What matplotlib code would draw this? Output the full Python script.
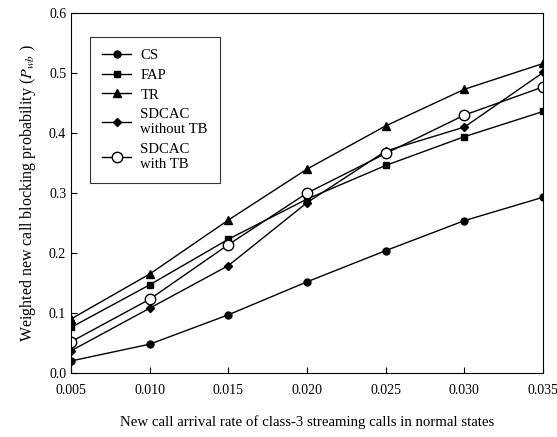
import matplotlib
matplotlib.use("Agg")
import matplotlib.pyplot as plt

plt.rcParams['font.family'] = ['Liberation Serif', 'DejaVu Serif']
plt.rcParams['mathtext.fontset'] = 'stix'

x = [0.005, 0.010, 0.015, 0.020, 0.025, 0.030, 0.035]
xtick_labels = ["0.005", "0.010", "0.015", "0.020", "0.025", "0.030", "0.035"]
cs = [0.020, 0.048, 0.097, 0.152, 0.204, 0.254, 0.293]
fap = [0.076, 0.147, 0.223, 0.290, 0.346, 0.394, 0.436]
tr = [0.090, 0.165, 0.255, 0.340, 0.412, 0.473, 0.516]
sdcac_wo = [0.037, 0.108, 0.179, 0.284, 0.370, 0.410, 0.501]
sdcac_w = [0.052, 0.123, 0.214, 0.300, 0.366, 0.430, 0.477]

fig = plt.figure(figsize=(5.57, 4.37), dpi=100)
ax = fig.add_axes([0.1275, 0.1465, 0.8475, 0.8235])

lw = 1.0
ax.plot(x, cs, color='black', lw=lw, marker='o', ms=5, label='CS')
ax.plot(x, fap, color='black', lw=lw, marker='s', ms=5, label='FAP')
ax.plot(x, tr, color='black', lw=lw, marker='^', ms=5.5, label='TR')
ax.plot(x, sdcac_wo, color='black', lw=lw, marker='D', ms=4.5, label='SDCAC\nwithout TB')
ax.plot(x, sdcac_w, color='black', lw=lw, marker='o', ms=7.5, mfc='white', mec='black', label='SDCAC\nwith TB')

ax.set_xlim(0.005, 0.035)
ax.set_ylim(0.0, 0.6)
ax.set_xticks(x)
ax.set_xticklabels(xtick_labels)
ax.set_yticks([0.0, 0.1, 0.2, 0.3, 0.4, 0.5, 0.6])
ax.set_yticklabels(["0.0", "0.1", "0.2", "0.3", "0.4", "0.5", "0.6"])
ax.tick_params(direction='in', length=4, labelsize=10, width=0.8)
ax.tick_params(axis='x', pad=8)

ax.set_xlabel('New call arrival rate of class-3 streaming calls in normal states', fontsize=10.7, labelpad=13)
ax.set_ylabel(r'Weighted new call blocking probability ($P_{wb}$ )', fontsize=11.5, labelpad=8)

leg = ax.legend(loc='upper left', bbox_to_anchor=(0.025, 0.955), fontsize=10.6, frameon=True,
                fancybox=False, edgecolor='black', handlelength=2.0, labelspacing=0.45,
                borderpad=0.8, handletextpad=0.6)
leg.get_frame().set_linewidth(0.8)

fig.savefig('out.png', dpi=100)
